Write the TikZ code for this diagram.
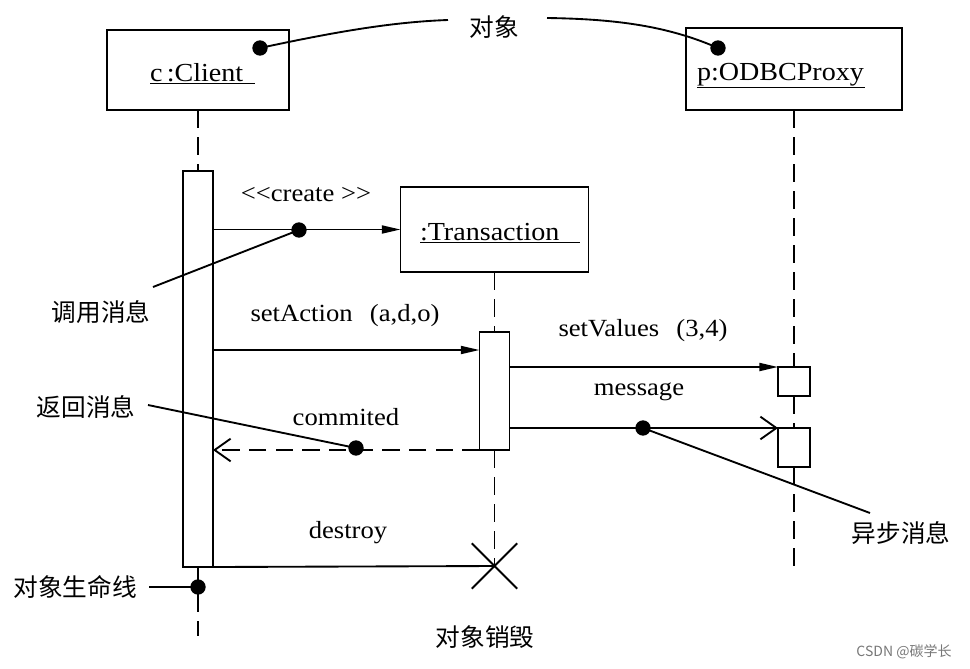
\documentclass[tikz,border=0pt]{standalone}
\usepackage{fontspec}
\setmainfont[FakeStretch=1.08]{Liberation Serif}
\newfontfamily\cjk{Noto Sans CJK SC}
\usetikzlibrary{arrows.meta,shapes.misc}
\definecolor{wmgray}{RGB}{120,120,120}
\begin{document}
\begin{tikzpicture}[x=0.75pt,y=-0.75pt,
  every node/.style={inner sep=0pt, outer sep=0pt},
  objbox/.style={draw, line width=1.4pt, fill=white},
  actbar/.style={draw, line width=1.4pt, fill=white, minimum width=22.5pt},
  lifeline/.style={line width=1.4pt, dash pattern=on 13.5pt off 6.75pt},
  sync/.style={line width=1.4pt, -{Triangle[length=14pt,width=6pt]}},
  async/.style={line width=1.4pt, -{Straight Barb[length=12pt,width=17pt]}},
  retmsg/.style={async, dash pattern=on 13pt off 7pt},
  pointer/.style={line width=1.4pt},
  dot/.style={circle, fill=black, minimum size=11.5pt},
  msg/.style={font=\fontsize{18.5}{22}\selectfont},
  title/.style={font=\fontsize{19.5}{24}\selectfont},
  cn/.style={font=\cjk\fontsize{18.5}{22}\selectfont},
  wm/.style={font=\cjk\fontsize{10.5}{12}\selectfont, text=wmgray},
]
\useasboundingbox[fill=white] (0,0) rectangle (970,668);

% object boxes
\node[objbox, minimum width=161.5pt, minimum height=61.5pt] (pbox) at (794,69) {};
\node[objbox, minimum width=136.5pt, minimum height=60pt] (cbox) at (198,70) {};
\node[objbox, minimum width=141pt, minimum height=63.75pt] (tbox) at (494.5,229.5) {};
\node[title, anchor=base west] (clbl) at (150,81) {\underline{c\,:Client\hspace{0.45em}}};
\node[title, anchor=base west] (plbl) at (697,80) {\underline{p:ODBCProxy\hspace{0.05em}}};
\node[title, anchor=base west] (tlbl) at (420,240) {\underline{:Transaction\hspace{0.8em}}};

% activation bars and boxes
\node[actbar, minimum height=297pt] (cbar) at (198,369) {};
\node[actbar, minimum height=88.5pt] (tbar) at (494.5,391) {};
\node[actbar, minimum width=24pt, minimum height=21.75pt] (pact1) at (794,381.5) {};
\node[actbar, minimum width=24pt, minimum height=29.25pt] (pact2) at (794,447.5) {};

% destruction mark
\node[draw, cross out, line width=1.4pt, minimum size=34pt] (xm) at (494.5,566) {};
\coordinate (cend) at (198,636);
\coordinate (pend) at (794,566);

% lifelines
\draw[lifeline] (cbox.south) -- (cbar.north);
\draw[lifeline] (cbar.south) -- (cend);
\draw[lifeline] (tbox.south) -- (tbar.north);
\draw[lifeline] (tbar.south) -- (xm.center);
\draw[lifeline] (pbox.south) -- (pact1.north);
\draw[lifeline] (pact1.south) -- (pact2.north);
\draw[lifeline] (pact2.south) -- (pend);

% messages
\coordinate (ya) at (0,350);
\draw[sync] (cbar.east |- tbox.west) -- (tbox.west);
\draw[sync] (cbar.east |- ya) -- (tbar.west |- ya);
\draw[sync] (tbar.east |- pact1.north west) -- (pact1.north west);
\draw[async] (tbar.east |- pact2.north west) -- (pact2.north west);
\draw[retmsg] (tbar.south west) -- (cbar.east |- tbar.south west);
\draw[pointer] (cbar.south east) -- (xm.center);

% message labels
\node[msg] (lcreate) at (306,195) {<\kern0pt<create~>\kern0pt>};
\node[msg] (lset) at (345,316) {setAction\hspace{0.7em}(a,d,o)};
\node[msg] (lcom) at (346,417) {commited};
\node[msg] (lval) at (643,331) {setValues\hspace{0.7em}(3,4)};
\node[msg] (lmsg) at (639,392) {message};
\node[msg] (ldes) at (348,533) {destroy};

% annotation labels
\node[cn] (aobj) at (494,27) {对象};
\node[cn] (acall) at (101,312) {调用消息};
\node[cn] (aret) at (86,407) {返回消息};
\node[cn] (aasync) at (901,533) {异步消息};
\node[cn] (alife) at (75,587) {对象生命线};
\node[cn] (adel) at (485,637) {对象销毁};
\node[wm] (wmk) at (904,652) {CSDN @碳学长};

% annotation dots
\node[dot] (dc) at (260,48) {};
\node[dot] (dp) at (718,48) {};
\node[dot] (dcreate) at (299,230) {};
\node[dot] (dret) at (356,448) {};
\node[dot] (dmsg) at (643,428) {};
\node[dot] (dlife) at (198,587) {};

% annotation pointers
\coordinate (e1) at (448,20);
\coordinate (e2) at (547,18);
\coordinate (e3) at (153,287);
\coordinate (e4) at (148,405);
\coordinate (e5) at (870,513);
\coordinate (e6) at (149,587);
\draw[pointer] (dc.center) .. controls (330,33) and (390,22) .. (e1);
\draw[pointer] (e2) .. controls (620,19) and (670,27) .. (dp.center);
\draw[pointer] (e3) -- (dcreate.center);
\draw[pointer] (e4) -- (dret.center);
\draw[pointer] (dmsg.center) -- (e5);
\draw[pointer] (e6) -- (dlife.center);
\end{tikzpicture}
\end{document}
